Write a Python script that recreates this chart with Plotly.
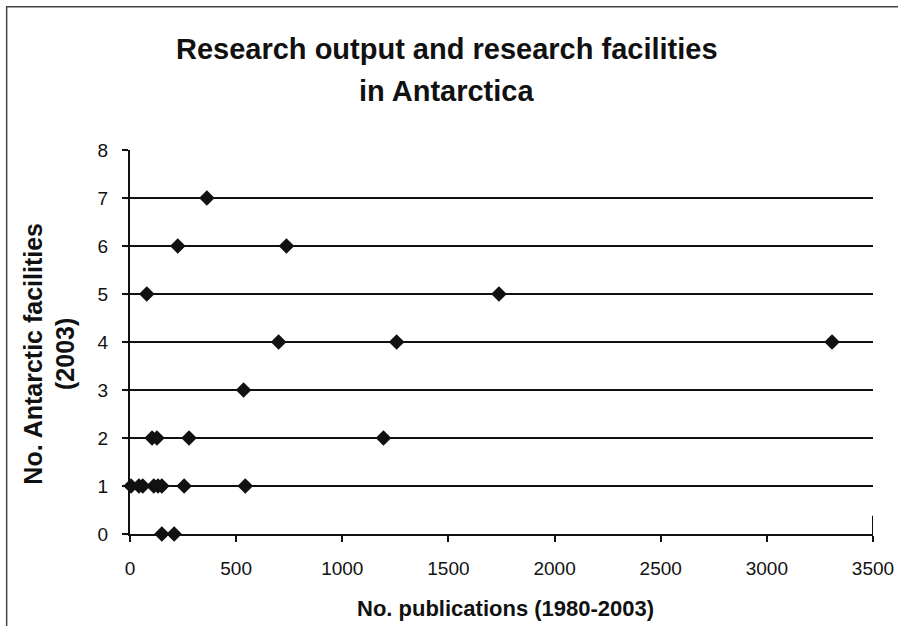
import plotly.graph_objects as go

# Data
publications = [150, 208,
                 5, 42, 60, 112, 132, 150, 255, 543,
                 104, 127, 278, 1194,
                 535,
                 700, 1256, 3307,
                 79, 1738,
                 225, 737,
                 362]
facilities = [0, 0,
              1, 1, 1, 1, 1, 1, 1, 1,
              2, 2, 2, 2,
              3,
              4, 4, 4,
              5, 5,
              6, 6,
              7]

x_ticks = [0, 500, 1000, 1500, 2000, 2500, 3000, 3500]
y_ticks = [0, 1, 2, 3, 4, 5, 6, 7, 8]

FONT = "Liberation Sans, Arial, sans-serif"

fig = go.Figure()
fig.add_trace(go.Scatter(
    x=publications, y=facilities, mode="markers",
    marker=dict(symbol="diamond", size=12, color="#111111"),
    showlegend=False, cliponaxis=False,
))

fig.update_layout(
    width=898, height=626,
    margin=dict(l=130, r=25, t=150, b=92),
    paper_bgcolor="white", plot_bgcolor="white",
    font=dict(family=FONT, color="#111111"),
    xaxis=dict(range=[0, 3500], tickvals=x_ticks, showgrid=False, zeroline=False,
               showline=True, linecolor="#111111", linewidth=2,
               ticks="outside", ticklen=6, tickcolor="#111111", tickwidth=1.5,
               tickfont=dict(size=19, family=FONT), ticklabelstandoff=10,
               automargin=False),
    yaxis=dict(range=[0, 8], tickvals=y_ticks, showgrid=True, gridcolor="#111111",
               gridwidth=1.5, zeroline=False,
               showline=True, linecolor="#111111", linewidth=2,
               ticks="outside", ticklen=6, tickcolor="#111111", tickwidth=1.5,
               tickfont=dict(size=19, family=FONT), ticklabelstandoff=10,
               automargin=False),
    annotations=[
        dict(text="<b>Research output and research facilities</b>", x=0.426, y=1.262,
             xref="paper", yref="paper", showarrow=False, xanchor="center", yanchor="middle",
             font=dict(size=29, family=FONT)),
        dict(text="<b>in Antarctica</b>", x=0.426, y=1.153,
             xref="paper", yref="paper", showarrow=False, xanchor="center", yanchor="middle",
             font=dict(size=29, family=FONT)),
        dict(text="<b>No. publications (1980-2003)</b>", x=0.505, y=-0.193,
             xref="paper", yref="paper", showarrow=False, xanchor="center", yanchor="middle",
             font=dict(size=22, family=FONT)),
        dict(text="<b>No. Antarctic facilities<br>(2003)</b>", x=-0.108, y=0.469,
             xref="paper", yref="paper", showarrow=False, xanchor="center", yanchor="middle",
             textangle=-90, font=dict(size=25, family=FONT)),
    ],
    shapes=[
        dict(type="rect", xref="paper", yref="paper", x0=-0.166, x1=1.1, y0=-0.3, y1=1.373,
             line=dict(color="#444444", width=1.5), fillcolor="rgba(0,0,0,0)", layer="below"),
        dict(type="line", xref="x", yref="y", x0=3500, x1=3500, y0=-0.1, y1=0.38,
             line=dict(color="#111111", width=2)),
    ],
)

fig.write_html("out.html", config={"displayModeBar": False},
               post_script="document.body.style.margin='0px';")
